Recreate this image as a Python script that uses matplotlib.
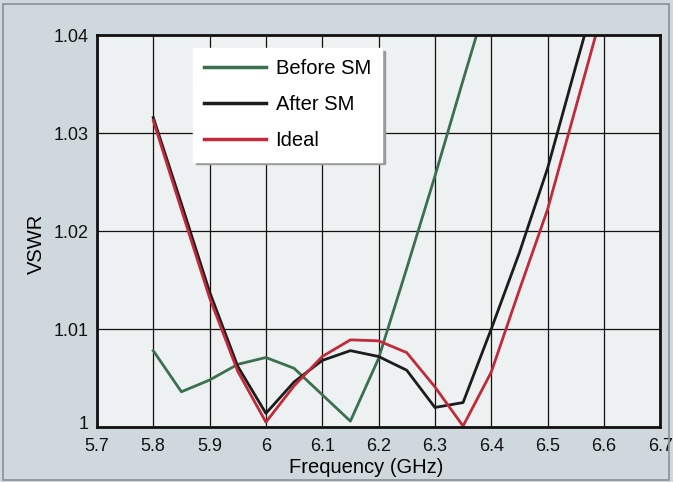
import matplotlib.pyplot as plt
import matplotlib.transforms as mtransforms
from matplotlib.patches import Rectangle
from matplotlib.ticker import FuncFormatter

# Frequency points (GHz)
freq = [5.80, 5.85, 5.90, 5.95, 6.00, 6.05, 6.10, 6.15, 6.20, 6.25, 6.30, 6.35, 6.40,
        6.45, 6.50, 6.55, 6.60]

before_sm = [1.0078, 1.0036, 1.0048, 1.0064, 1.0071, 1.0060, 1.0033, 1.0006, 1.0070,
             1.0162, 1.0256, 1.0354, 1.0450, 1.0550, 1.0650, 1.0750, 1.0850]
after_sm = [1.0316, 1.0228, 1.0138, 1.0062, 1.0014, 1.0046, 1.0068, 1.0078, 1.0072,
            1.0058, 1.0020, 1.0025, 1.0100, 1.0178, 1.0264, 1.0368, 1.0470]
ideal = [1.0313, 1.0222, 1.0132, 1.0057, 1.0005, 1.0042, 1.0072, 1.0089, 1.0088,
         1.0076, 1.0041, 1.0001, 1.0056, 1.0140, 1.0222, 1.0326, 1.0430]

xticks = [5.7, 5.8, 5.9, 6.0, 6.1, 6.2, 6.3, 6.4, 6.5, 6.6, 6.7]
yticks = [1.0, 1.01, 1.02, 1.03, 1.04]

plt.rcParams["font.family"] = ["Liberation Sans", "DejaVu Sans"]

fig = plt.figure(figsize=(6.73, 4.82), dpi=100)
fig.patch.set_facecolor("#cfd9dd")
ax = fig.add_axes([0.144, 0.114, 0.837, 0.813])
ax.set_facecolor("#eef1f1")

# thin frame round the whole picture
fig.patches.append(Rectangle((0.004, 0.004), 0.99, 0.988, transform=fig.transFigure,
                             fill=False, edgecolor="#8a9296", linewidth=1.2))

ax.plot(freq, before_sm, color="#3b6f4f", lw=2.0, label="Before SM")
ax.plot(freq, after_sm, color="#1c1c1c", lw=2.0, label="After SM")
ax.plot(freq, ideal, color="#c02a3a", lw=2.0, label="Ideal")

ax.set_xlim(5.7, 6.7)
ax.set_ylim(1.0, 1.04)
ax.set_xticks(xticks)
ax.set_yticks(yticks)
fmt = FuncFormatter(lambda v, p: "%g" % round(v, 3))
ax.xaxis.set_major_formatter(fmt)
ax.yaxis.set_major_formatter(fmt)
ax.tick_params(length=0, labelsize=13, colors="#111111")
ax.tick_params(axis="x", pad=8)
ax.tick_params(axis="y", pad=6)
ax.grid(True, color="#111111", lw=0.9)
ax.set_axisbelow(True)
for s in ax.spines.values():
    s.set_linewidth(2.0)
    s.set_color("#111111")

# lift the bottom "1" label a little so it clears "5.7"
fig.canvas.draw()
lab0 = ax.get_yticklabels()[0]
lab0.set_transform(lab0.get_transform() +
                   mtransforms.ScaledTranslation(0, 5 / 100, fig.dpi_scale_trans))

ax.set_xlabel("Frequency (GHz)", fontsize=14.5)
ax.xaxis.set_label_coords(0.478, -0.078)
ax.set_ylabel("VSWR", fontsize=14.5)
ax.yaxis.set_label_coords(-0.091, 0.467)

leg = ax.legend(loc="upper left", bbox_to_anchor=(0.1705, 0.967), fontsize=14.5,
                frameon=True, fancybox=False, shadow={"color": "#9a9a9a", "alpha": 1},
                handlelength=3.1, handletextpad=0.45, borderpad=0.55,
                labelspacing=0.85, borderaxespad=0)
leg.get_frame().set_facecolor("white")
leg.get_frame().set_edgecolor("white")
leg.get_frame().set_alpha(1)
for h in leg.get_lines():
    h.set_linewidth(2.5)

fig.savefig("out.png", dpi=100, facecolor=fig.get_facecolor())
